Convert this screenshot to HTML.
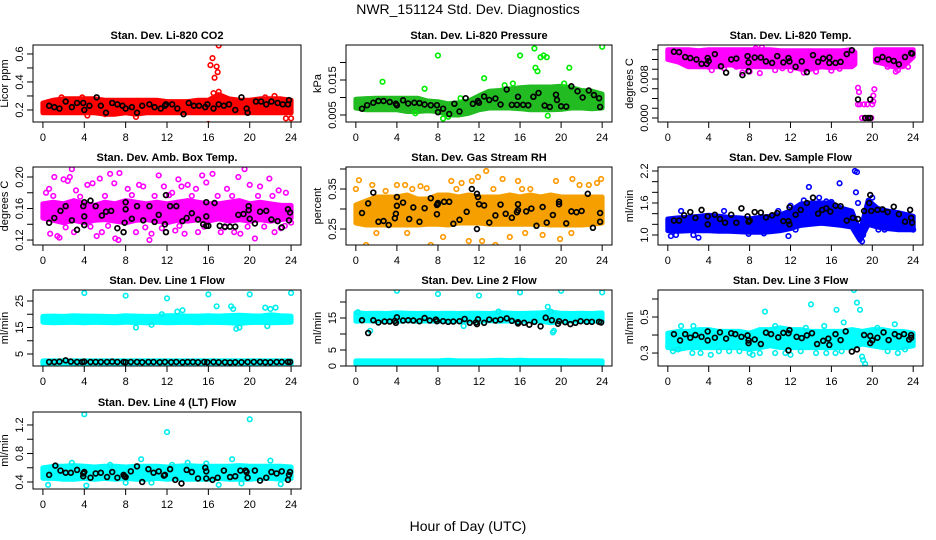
<!DOCTYPE html>
<html><head><meta charset="utf-8"><style>
body{margin:0;background:#fff}
svg{display:block;font-family:"Liberation Sans",sans-serif}
</style></head><body>
<svg id="chart" width="936" height="540" viewBox="0 0 936 540">
<rect x="0" y="0" width="936" height="540" fill="#fff"/>
<text x="468" y="14" text-anchor="middle" font-size="14">NWR_151124  Std. Dev. Diagnostics</text>
<text x="468" y="531" text-anchor="middle" font-size="14">Hour of Day (UTC)</text>
</svg>
<script>
const HOURS=[0,1,2,3,4,5,6,7,8,9,10,11,12,13,14,15,16,17,18,19,20,21,22,23,24];
const X_TICKS=[0,4,8,12,16,20,24];

// P1 CO2
const co2BandLo=[0.18,0.18,0.18,0.18,0.18,0.18,0.17,0.17,0.18,0.17,0.18,0.18,0.18,0.18,0.18,0.18,0.18,0.18,0.18,0.18,0.18,0.18,0.18,0.18,0.18];
const co2BandHi=[0.25,0.27,0.28,0.28,0.28,0.28,0.27,0.27,0.27,0.27,0.27,0.27,0.26,0.26,0.26,0.27,0.27,0.31,0.28,0.27,0.27,0.28,0.28,0.28,0.27];
const co2Pts=[[16.2,0.52],[16.4,0.57],[16.6,0.43],[16.8,0.51],[16.9,0.47],[17,0.66],[16.5,0.32],[17,0.33],[16,0.1],[23.5,0.14],[24,0.14],[1.8,0.29],[3.8,0.29],[4.3,0.16],[9,0.15],[22.4,0.3],[21.5,0.29],[6,0.17]];
const co2Black=[[0.6,0.23],[1.1,0.22],[1.6,0.21],[2.2,0.26],[2.8,0.22],[3.3,0.25],[3.9,0.25],[4,0.2],[4.5,0.23],[5.2,0.29],[5.6,0.23],[6.1,0.18],[6.7,0.25],[7.2,0.24],[7.7,0.23],[8,0.21],[8.6,0.22],[9.1,0.18],[9.6,0.23],[10.3,0.24],[10.8,0.22],[11.4,0.21],[11.8,0.23],[11.9,0.24],[12.5,0.24],[13,0.21],[13.6,0.17],[14.1,0.25],[14.6,0.23],[15.1,0.23],[15.7,0.22],[15.9,0.24],[16.5,0.21],[17,0.24],[17.5,0.23],[18,0.24],[18.6,0.2],[19.2,0.29],[19.7,0.21],[19.8,0.18],[20.6,0.26],[21.1,0.26],[21.6,0.24],[22.1,0.26],[22.7,0.25],[23.2,0.24],[23.7,0.24],[23.8,0.27]];
const co2Ticks=[0.2,0.3,0.4,0.5,0.6];
const co2Labels=["0.2","","0.4","","0.6"];

// P2 Pressure
const presBandLo=[0.007,0.0065,0.0065,0.0065,0.0065,0.006,0.006,0.0062,0.006,0.005,0.005,0.0055,0.0065,0.007,0.007,0.007,0.0068,0.0065,0.0065,0.0065,0.0066,0.007,0.007,0.0068,0.007];
const presBandHi=[0.0095,0.0097,0.0098,0.0098,0.0098,0.0098,0.0098,0.009,0.0088,0.0082,0.0085,0.009,0.0105,0.0118,0.012,0.0125,0.0128,0.013,0.013,0.013,0.0132,0.0128,0.012,0.0118,0.011];
const presPts=[[8,0.022],[2.6,0.0145],[6.7,0.0125],[12.5,0.0155],[16,0.022],[17.4,0.024],[17.5,0.0185],[17.7,0.0175],[18,0.0215],[18.3,0.022],[18.6,0.0215],[20.8,0.0185],[24,0.0245],[18.7,0.0048],[5.8,0.0055],[10.2,0.0098],[8.5,0.004],[9,0.0045],[14.5,0.0135],[15.3,0.014],[20.3,0.014]];
const presBlack=[[0.6,0.0068],[1.1,0.0078],[1.7,0.0085],[2.2,0.009],[2.7,0.009],[3.3,0.0087],[3.9,0.0082],[4,0.0078],[4.6,0.0092],[5.1,0.0083],[5.7,0.0085],[6.2,0.0084],[6.7,0.008],[7.3,0.0078],[7.9,0.0078],[8,0.0058],[8.5,0.0068],[9.1,0.0053],[9.6,0.0082],[10.1,0.006],[10.7,0.0098],[11.4,0.0082],[11.9,0.009],[12,0.0085],[12.5,0.0103],[13,0.0093],[13.6,0.0097],[14.1,0.008],[14.7,0.0123],[15.2,0.0079],[15.7,0.0079],[15.8,0.0102],[16.3,0.0079],[16.8,0.0078],[17.3,0.0102],[17.8,0.0113],[18.4,0.0077],[18.9,0.0073],[19.5,0.0108],[19.6,0.0093],[20,0.0075],[20.5,0.0074],[21,0.0132],[21.6,0.0118],[22.1,0.01],[22.7,0.012],[23.2,0.0107],[23.7,0.0098],[23.8,0.0073]];
const presTicks=[0.005,0.010,0.015,0.020];
const presLabels=["0.005","","0.015",""];

// P3 Li-820 Temp
const tempBandX=[0,1,2,3,4,5,6,7,8,9,10,11,12,13,14,15,16,17,18,18.3,null,20.3,21,22,23,24];
const tempBandLo=[0.012,0.0115,0.0105,0.0105,0.0105,0.0105,0.011,0.0105,0.0105,0.0105,0.0105,0.0105,0.0105,0.01,0.01,0.0105,0.0103,0.0105,0.0105,0.011,null,0.0115,0.0112,0.0105,0.0105,0.0125];
const tempBandHi=[0.014,0.014,0.014,0.0138,0.014,0.014,0.014,0.014,0.014,0.014,0.014,0.0138,0.0138,0.0138,0.0138,0.0138,0.0138,0.0138,0.014,0.0135,null,0.014,0.014,0.014,0.014,0.014];
const tempPts=[[1.3,0.0115],[1.8,0.0108],[4,0.0105],[4.3,0.0098],[5.2,0.0108],[5.5,0.0102],[7.3,0.0093],[8,0.0095],[8.6,0.0143],[9.2,0.0145],[9,0.0092],[10.5,0.0098],[12,0.0098],[13.3,0.0093],[14.5,0.0095],[16,0.0097],[16.8,0.0101],[18.6,0.0062],[18.7,0.0053],[18.6,0.0028],[18.8,0.0028],[19,0],[19.3,0],[19.6,0],[19.9,0],[19.2,0.0028],[19.5,0.0028],[20,0.0028],[20.1,0.0046],[20.2,0.0059],[20.1,0.0034],[21.5,0.0105],[22.3,0.0095],[22.5,0.0098],[23.5,0.0105],[2.5,0.0108],[6.7,0.0105],[11.2,0.0102]];
const tempBlack=[[0.6,0.0136],[1.1,0.0135],[1.7,0.0125],[2.2,0.0123],[2.8,0.012],[3.3,0.0111],[3.8,0.0111],[3.9,0.0123],[4,0.0117],[4.6,0.0131],[5.2,0.0106],[5.7,0.0093],[6.2,0.012],[6.7,0.0122],[7.3,0.0088],[7.8,0.0127],[7.9,0.0114],[7.9,0.0096],[8.5,0.0124],[9.1,0.0124],[9.6,0.0116],[10.2,0.0113],[10.7,0.0127],[11.3,0.0114],[11.8,0.0123],[11.9,0.0116],[12.5,0.0105],[13.1,0.0116],[13.6,0.0094],[14.2,0.0129],[14.7,0.0115],[15.2,0.0122],[15.8,0.0124],[15.8,0.0113],[16.4,0.0113],[16.9,0.0115],[17.5,0.0131],[18,0.0139],[18.6,0.0038],[19.3,0],[19.6,0],[19.8,0.0038],[19.8,0],[20.5,0.012],[21,0.0125],[21.6,0.012],[22.1,0.0117],[22.6,0.011],[23.2,0.0125],[23.8,0.0133],[23.9,0.0132]];
const tempTicks=[0,0.002,0.004,0.006,0.008,0.010,0.012,0.014];
const tempLabels=["0.000","","","","0.008","","",""];

// P4 Amb Box Temp
const ambBandLo=[0.148,0.145,0.142,0.145,0.142,0.145,0.146,0.144,0.142,0.145,0.146,0.144,0.142,0.145,0.144,0.146,0.144,0.147,0.144,0.146,0.144,0.146,0.144,0.146,0.148];
const ambBandHi=[0.166,0.168,0.166,0.17,0.166,0.164,0.168,0.166,0.17,0.168,0.166,0.168,0.166,0.168,0.17,0.168,0.166,0.166,0.168,0.17,0.166,0.168,0.166,0.164,0.164];
const ambPts=[[0.3,0.18],[0.6,0.185],[1.1,0.2],[1.4,0.125],[1.6,0.123],[2,0.197],[2.4,0.195],[2.6,0.2],[2.8,0.21],[3.2,0.183],[4.3,0.19],[4.8,0.192],[5.5,0.198],[5.2,0.125],[6.5,0.204],[6.9,0.192],[7.4,0.205],[7,0.122],[7.3,0.12],[8.2,0.185],[9.3,0.19],[9.7,0.188],[10.3,0.12],[10.5,0.128],[11.2,0.202],[11.7,0.188],[12.5,0.18],[13.1,0.197],[13.4,0.188],[13.7,0.128],[14,0.19],[14.8,0.185],[15.4,0.202],[15.8,0.193],[16.4,0.204],[17.2,0.13],[17.8,0.185],[18.9,0.2],[19.1,0.128],[19.5,0.21],[20,0.19],[20.5,0.122],[21,0.188],[21.9,0.198],[22.4,0.13],[22.8,0.183],[23.5,0.18],[24,0.142],[0.7,0.128],[3,0.13],[5.7,0.13],[9,0.13],[12.8,0.132],[15,0.13],[18.5,0.13],[23,0.135],[1,0.176],[2.2,0.136],[3.6,0.175],[4.6,0.137],[6,0.176],[6.3,0.138],[8.6,0.177],[9.9,0.136],[10.8,0.176],[11.5,0.135],[12.2,0.177],[13.2,0.138],[14.4,0.176],[15.6,0.137],[16.9,0.176],[17.6,0.136],[18.3,0.176],[19.8,0.137],[20.8,0.176],[21.4,0.137],[22.2,0.176],[23.4,0.138]];
const ambBlack=[[0.6,0.142],[1.1,0.148],[1.7,0.157],[2.2,0.163],[2.8,0.145],[3.3,0.133],[3.9,0.163],[4,0.168],[4,0.15],[4,0.139],[4.6,0.17],[5.1,0.163],[5.7,0.151],[6.1,0.156],[6.6,0.157],[7.2,0.135],[7.8,0.13],[7.9,0.142],[8,0.159],[8,0.168],[8.6,0.147],[9.1,0.163],[9.7,0.145],[10.3,0.163],[10.8,0.143],[11.2,0.152],[11.8,0.14],[11.9,0.177],[11.9,0.13],[12.3,0.163],[12.9,0.163],[13.5,0.144],[13.9,0.148],[14.4,0.154],[15,0.146],[15.5,0.14],[15.8,0.138],[15.8,0.15],[15.8,0.168],[16,0.138],[16.6,0.167],[17.1,0.138],[17.6,0.137],[18.1,0.137],[18.6,0.137],[18.9,0.152],[19.4,0.153],[19.9,0.158],[19.9,0.163],[20,0.147],[20.5,0.141],[21,0.156],[21.6,0.157],[22.1,0.146],[22.7,0.144],[23.1,0.136],[23.7,0.159],[23.8,0.145],[23.9,0.155]];
const ambTicks=[0.12,0.14,0.16,0.18,0.20];
const ambLabels=["0.12","","0.16","","0.20"];

// P5 Gas Stream RH
const rhBandLo=[0.265,0.26,0.26,0.26,0.26,0.26,0.26,0.262,0.262,0.26,0.265,0.265,0.265,0.262,0.262,0.262,0.262,0.262,0.262,0.26,0.26,0.26,0.26,0.262,0.265];
const rhBandHi=[0.31,0.32,0.33,0.33,0.33,0.335,0.325,0.325,0.335,0.335,0.33,0.335,0.33,0.33,0.33,0.335,0.33,0.335,0.33,0.335,0.33,0.33,0.33,0.33,0.33];
const rhPts=[[0.3,0.372],[0,0.35],[1,0.21],[1.6,0.36],[2.9,0.345],[4,0.36],[4.8,0.36],[5.5,0.35],[6.3,0.357],[6.9,0.352],[7.3,0.21],[8.5,0.23],[9.3,0.37],[9.8,0.35],[10.3,0.365],[11,0.22],[11.3,0.37],[11.9,0.38],[12.3,0.22],[12.7,0.395],[13.4,0.35],[13.6,0.21],[14.3,0.375],[15,0.23],[15.8,0.37],[16.2,0.35],[17,0.35],[18.2,0.235],[19.5,0.37],[19.9,0.225],[21.1,0.375],[21.8,0.36],[22.7,0.36],[23.5,0.365],[23.9,0.375],[2,0.24],[5,0.24],[16.5,0.24],[21,0.24]];
const rhBlack=[[0.6,0.29],[1.2,0.314],[1.7,0.341],[2.2,0.268],[2.7,0.27],[3.2,0.26],[3.8,0.277],[3.9,0.288],[4,0.308],[4,0.33],[4.6,0.316],[5.2,0.275],[5.6,0.304],[6.2,0.268],[6.7,0.302],[7.3,0.327],[7.9,0.287],[7.9,0.31],[8,0.313],[8,0.315],[8.6,0.318],[9.1,0.318],[9.5,0.263],[10.1,0.273],[10.8,0.293],[11.3,0.35],[11.8,0.338],[11.8,0.25],[11.9,0.33],[12,0.312],[12.5,0.309],[13,0.266],[13.6,0.284],[14.1,0.311],[14.6,0.288],[15.2,0.278],[15.7,0.292],[15.8,0.297],[15.8,0.312],[16.6,0.294],[17.1,0.301],[17.6,0.258],[18.2,0.305],[18.6,0.266],[19.2,0.285],[19.8,0.318],[19.8,0.312],[20.5,0.264],[21,0.294],[21.5,0.292],[22,0.295],[22.6,0.338],[23.1,0.253],[23.8,0.268],[23.8,0.29]];
const rhTicks=[0.25,0.30,0.35,0.40];
const rhLabels=["0.25","","0.35",""];

// P6 Sample Flow
const sfBandX=[0,1,2,3,4,5,6,7,8,9,10,11,12,13,14,15,16,17,18,18.8,19.6,20.5,21.5,22.5,24];
const sfBandLo=[1.08,1.07,1.08,1.08,1.08,1.07,1.07,1.06,1.05,1.05,1.06,1.08,1.12,1.18,1.2,1.22,1.2,1.18,1.15,0.9,1.2,1.15,1.12,1.1,1.1];
const sfBandHi=[1.3,1.32,1.33,1.35,1.37,1.35,1.33,1.32,1.3,1.33,1.35,1.38,1.45,1.58,1.6,1.6,1.6,1.5,1.45,1.05,1.65,1.5,1.45,1.42,1.35];
const sfPts=[[13.8,1.9],[16.8,1.97],[18.3,2.2],[18.5,2.18],[18.4,1.8],[14.8,1.7],[20,1.7],[0.3,0.98],[0.8,1.0],[3,0.95],[2.5,1.0],[11.8,0.98],[18.9,0.95],[19,0.88],[19.1,1.0],[1.3,1.45],[5.5,1.45],[10.8,1.45],[12,1.55],[13.3,1.65],[15.5,1.63],[16,1.62],[18.6,1.6],[20.6,1.1],[21.2,1.1],[22.6,1.13],[24,1.1],[7.9,1.02],[9.4,1.03],[12.5,1.1]];
const sfBlack=[[0.6,1.27],[1.1,1.27],[1.6,1.37],[2.2,1.43],[2.7,1.32],[3.3,1.47],[3.9,1.2],[3.9,1.35],[4.6,1.38],[5.1,1.3],[5.6,1.23],[6.2,1.38],[6.7,1.23],[7.2,1.5],[7.8,1.35],[7.9,1.25],[8,1.27],[8.5,1.43],[9.1,1.42],[9.6,1.33],[10.2,1.37],[10.7,1.41],[11.3,1.26],[11.8,1.26],[11.9,1.2],[11.9,1.52],[12.5,1.38],[13,1.47],[13.6,1.6],[14.2,1.7],[14.7,1.4],[15.1,1.47],[15.5,1.5],[15.9,1.44],[16.4,1.55],[16.9,1.54],[17.5,1.27],[18.1,1.32],[18.6,1.3],[19.2,1.45],[19.7,1.6],[19.8,1.75],[19.9,1.45],[20.5,1.47],[21,1.48],[21.5,1.43],[22.1,1.53],[22.6,1.39],[23.2,1.25],[23.7,1.47],[23.8,1.32],[23.9,1.23]];
const sfTicks=[1.0,1.2,1.4,1.6,1.8,2.0,2.2];
const sfLabels=["1.0","","","1.6","","","2.2"];

// P7 Line 1 Flow
const l1BandLo=[17,16.8,16.9,17,16.8,17,16.9,16.8,17,16.9,16.8,17,16.8,16.9,17,16.8,17,16.9,16.8,16.5,16.9,17,16.8,16.9,17];
const l1BandHi=[19.2,19.3,19.2,19.4,19.3,19.3,19.2,19.1,19.4,19.3,19.2,19.2,19.4,19.5,19.3,19.3,19.4,19.3,19.5,19.6,19.4,19.3,19.8,19.4,19.3];
const l1Band2Lo=[1.2,1.2,1.2,1.2,1.2,1.2,1.2,1.2,1.2,1.2,1.2,1.2,1.2,1.2,1.2,1.2,1.2,1.2,1.2,1.2,1.2,1.2,1.2,1.2,1.2];
const l1Band2Hi=[2.4,2.4,2.4,2.4,2.4,2.4,2.4,2.4,2.4,2.4,2.4,2.4,2.4,2.4,2.4,2.4,2.4,2.4,2.4,2.4,2.4,2.4,2.4,2.4,2.4];
const l1Pts=[[4,28],[8,27],[12,26],[16,27.5],[20,27.5],[24,28],[16.8,23],[18.2,23],[18.4,22],[21.5,22.5],[22,22],[22.5,22.5],[18.7,14.5],[9,15],[21.7,15.5],[19,15],[13,21],[13.5,21.5],[11.5,20],[10.5,16]];
const l1Black=[[0.6,2],[1.1,2],[1.6,2.1],[2.2,2.6],[2.7,2.1],[3.3,2],[3.8,2],[4,2.1],[4.6,2],[5.1,2],[5.6,2],[6.2,2],[6.7,2.1],[7.2,2],[7.8,2],[8,1.9],[8.5,2],[9.1,2],[9.6,1.9],[10.2,2],[10.7,2],[11.3,1.9],[11.8,2],[12.4,1.9],[12.9,2],[13.5,1.9],[14,2],[14.5,2],[15,1.9],[15.6,2],[15.9,1.9],[16.5,2],[17,1.9],[17.6,1.9],[18.1,1.8],[18.6,1.9],[19.2,1.9],[19.8,2],[20.4,2],[21,2],[21.5,1.9],[22,1.9],[22.6,2],[23.1,2],[23.7,2],[23.9,2]];
const l1Ticks=[5,10,15,20,25];
const l1Labels=["5","","15","","25"];

// P8 Line 2 Flow
const l2BandLo=[14,14.2,14,14.1,14,14.2,14,14.1,14,14.1,14,14.1,14,14.2,14,14.1,14,14.1,14,13.5,14,14.1,14,14.1,14];
const l2BandHi=[16.6,16.4,16.5,16.4,16.6,16.5,16.4,16.5,16.4,16.5,16.4,16.5,16.5,16.4,16.6,16.5,16.4,16.5,16.6,16.8,16.5,16.4,16.5,16.4,16.6];
const l2Band2Lo=[0.5,0.5,0.5,0.5,0.5,0.5,0.5,0.5,0.5,0.5,0.5,0.5,0.5,0.5,0.5,0.5,0.5,0.5,0.5,0.5,0.5,0.5,0.5,0.5,0.5];
const l2Band2Hi=[1.6,1.6,1.6,1.6,1.6,1.6,1.6,1.6,1.6,1.8,1.6,1.6,1.6,1.7,1.8,1.7,1.8,1.7,1.7,1.7,1.7,1.6,1.6,1.6,1.6];
const l2Pts=[[4,23.5],[8,22.5],[12,22],[16,23],[20,23.5],[24,23],[18.7,18.5],[19,17],[19.3,11],[10.5,12.5],[1.4,11],[19.2,10.5],[13.9,17],[0.2,16.8]];
const l2Black=[[0.6,14.3],[1.2,10.3],[1.7,14.3],[2.2,13.6],[2.8,13.9],[3.3,13.9],[3.8,14.1],[3.9,13.5],[4,15.2],[4.6,14.2],[5.1,14.3],[5.6,14.2],[6.2,14],[6.7,15],[7.2,14.2],[7.8,14.5],[7.9,14],[8.5,14],[9,13.8],[9.5,13.9],[10.1,14],[10.6,14.7],[11.1,13.5],[11.7,13.6],[11.8,13.1],[11.9,14.6],[12.5,13.5],[13,14.5],[13.6,14.2],[14.1,14.5],[14.7,14.9],[15.2,14.1],[15.8,13.3],[15.8,13.7],[16.4,13.5],[16.9,12.9],[17.4,13.8],[18,12.4],[18.5,15.1],[19.1,14.3],[19.7,13.2],[19.8,14],[20.4,13.7],[20.9,13.1],[21.4,13.5],[21.9,14],[22.5,13.8],[23,13.8],[23.7,13.8],[23.9,13.6]];
const l2Ticks=[0,5,10,15,20];
const l2Labels=["0","5","","15",""];

// P9 Line 3 Flow
const l3BandLo=[0.33,0.32,0.33,0.33,0.33,0.33,0.33,0.33,0.32,0.33,0.34,0.33,0.33,0.33,0.33,0.33,0.33,0.33,0.33,0.35,0.34,0.33,0.33,0.33,0.34];
const l3BandHi=[0.41,0.42,0.42,0.43,0.43,0.42,0.42,0.42,0.41,0.43,0.43,0.44,0.43,0.43,0.42,0.42,0.42,0.42,0.43,0.42,0.43,0.43,0.42,0.42,0.41];
const l3Pts=[[0.5,0.31],[1,0.32],[2.4,0.3],[3.2,0.3],[4.2,0.29],[5,0.31],[6,0.31],[7,0.31],[8,0.3],[8.3,0.29],[9,0.3],[10.5,0.3],[11.5,0.3],[12,0.29],[13,0.31],[14.5,0.3],[15.5,0.3],[16.4,0.3],[17,0.31],[19.2,0.22],[19.3,0.24],[19.1,0.26],[19,0.28],[21.5,0.31],[22.5,0.3],[23.2,0.32],[9.5,0.53],[13.5,0.44],[14,0.57],[18.2,0.65],[18.5,0.58],[18.8,0.54],[16.5,0.54],[22.2,0.46],[1.3,0.45],[2.5,0.45],[10.5,0.45],[17.2,0.47],[20.5,0.44],[15.3,0.45]];
const l3Black=[[0.6,0.405],[1.2,0.37],[1.7,0.405],[2.2,0.385],[2.7,0.4],[3.3,0.39],[3.9,0.42],[3.9,0.37],[4.6,0.385],[5.1,0.415],[5.7,0.38],[6.2,0.41],[6.6,0.405],[7.2,0.39],[7.8,0.398],[7.9,0.37],[7.9,0.355],[8.5,0.375],[9.1,0.35],[9.6,0.413],[10.1,0.405],[10.8,0.387],[11.3,0.412],[11.8,0.315],[11.8,0.41],[11.9,0.427],[12.6,0.39],[13.1,0.383],[13.6,0.398],[14.1,0.41],[14.6,0.35],[15.2,0.368],[15.7,0.38],[15.8,0.345],[16.4,0.405],[16.9,0.372],[17.4,0.42],[18,0.308],[18.5,0.32],[19.2,0.4],[19.8,0.395],[19.8,0.355],[20,0.37],[20.5,0.385],[21.1,0.415],[21.6,0.372],[22.2,0.405],[22.6,0.393],[23.1,0.405],[23.6,0.375],[23.8,0.4],[23.8,0.385]];
const l3Ticks=[0.3,0.4,0.5,0.6];
const l3Labels=["0.3","","0.5",""];

// P10 Line 4 (LT) Flow
const l4BandLo=[0.45,0.45,0.44,0.44,0.45,0.44,0.45,0.44,0.45,0.44,0.44,0.45,0.44,0.45,0.44,0.44,0.44,0.45,0.44,0.44,0.44,0.45,0.45,0.44,0.45];
const l4BandHi=[0.6,0.62,0.62,0.63,0.62,0.61,0.62,0.62,0.61,0.62,0.62,0.62,0.61,0.62,0.63,0.62,0.62,0.62,0.62,0.63,0.62,0.62,0.62,0.62,0.61];
const l4Pts=[[4,1.35],[12,1.1],[20,1.28],[0.5,0.36],[4.2,0.35],[9.5,0.72],[18.3,0.72],[22,0.7],[17,0.36],[2.8,0.67],[14,0.67],[15.8,0.66],[8,0.39],[10.5,0.39],[19.2,0.38],[23,0.37],[6.5,0.64],[12.5,0.64]];
const l4Black=[[0.6,0.5],[1.2,0.63],[1.7,0.56],[2.2,0.53],[2.7,0.53],[3.3,0.57],[3.9,0.52],[3.9,0.48],[4,0.54],[4.6,0.46],[5.1,0.52],[5.6,0.53],[6.2,0.47],[6.7,0.54],[7.2,0.46],[7.8,0.5],[7.9,0.48],[8,0.47],[8.5,0.55],[9.1,0.62],[9.6,0.4],[10.2,0.58],[10.7,0.53],[11.2,0.55],[11.7,0.49],[11.8,0.5],[12.3,0.58],[12.8,0.43],[13.4,0.38],[13.9,0.57],[14.4,0.54],[15,0.45],[15.7,0.6],[15.8,0.55],[15.8,0.45],[16.4,0.43],[16.9,0.46],[17.5,0.56],[18.1,0.47],[18.6,0.48],[19.1,0.56],[19.6,0.56],[19.7,0.54],[19.8,0.46],[20.5,0.56],[21,0.42],[21.6,0.46],[22.1,0.54],[22.6,0.52],[23.1,0.55],[23.7,0.43],[23.8,0.5],[23.9,0.54]];
const l4Ticks=[0.4,0.6,0.8,1.0,1.2];
const l4Labels=["0.4","","0.8","","1.2"];

const NS="http://www.w3.org/2000/svg";
const svg=document.getElementById('chart');
function mk(tag,attrs,parent){const e=document.createElementNS(NS,tag);for(const k in attrs)e.setAttribute(k,attrs[k]);parent.appendChild(e);return e;}

const panels=[
 {id:'co2',title:'Stan. Dev. Li-820 CO2',ylab:'Licor ppm',box:[33,301,45,122],yd:[0.114,0.664],bx:HOURS,lo:co2BandLo,hi:co2BandHi,pts:co2Pts,blk:co2Black,yt:co2Ticks,yl:co2Labels,fill:'#ff0000',col:'#ff0000'},
 {id:'pressure',title:'Stan. Dev. Li-820 Pressure',ylab:'kPa',box:[346,612,45,122],yd:[0.003,0.025],bx:HOURS,lo:presBandLo,hi:presBandHi,pts:presPts,blk:presBlack,yt:presTicks,yl:presLabels,fill:'#22bb22',col:'#00ee00'},
 {id:'li820-temp',title:'Stan. Dev. Li-820 Temp.',ylab:'degrees C',box:[658,923,45,122],yd:[-0.00082,0.01497],bx:tempBandX,lo:tempBandLo,hi:tempBandHi,pts:tempPts,blk:tempBlack,yt:tempTicks,yl:tempLabels,fill:'#ff00ff',col:'#ff00ff'},
 {id:'amb-temp',title:'Stan. Dev. Amb. Box Temp.',ylab:'degrees C',box:[33,301,167,245],yd:[0.1137,0.2127],bx:HOURS,lo:ambBandLo,hi:ambBandHi,pts:ambPts,blk:ambBlack,yt:ambTicks,yl:ambLabels,fill:'#ff00ff',col:'#ff00ff'},
 {id:'rh',title:'Stan. Dev. Gas Stream RH',ylab:'percent',box:[346,612,167,245],yd:[0.21,0.405],bx:HOURS,lo:rhBandLo,hi:rhBandHi,pts:rhPts,blk:rhBlack,yt:rhTicks,yl:rhLabels,fill:'#f5a000',col:'#ff9900'},
 {id:'sample-flow',title:'Stan. Dev. Sample Flow',ylab:'ml/min',box:[658,923,167,245],yd:[0.8125,2.275],bx:sfBandX,lo:sfBandLo,hi:sfBandHi,pts:sfPts,blk:sfBlack,yt:sfTicks,yl:sfLabels,fill:'#0000ff',col:'#0000ff'},
 {id:'line1',title:'Stan. Dev. Line 1 Flow',ylab:'ml/min',box:[33,301,290,366],yd:[0.47,29.15],bx:HOURS,lo:l1BandLo,hi:l1BandHi,lo2:l1Band2Lo,hi2:l1Band2Hi,pts:l1Pts,blk:l1Black,yt:l1Ticks,yl:l1Labels,fill:'#00ffff',col:'#00eeee'},
 {id:'line2',title:'Stan. Dev. Line 2 Flow',ylab:'ml/min',box:[346,612,290,366],yd:[0,23.75],bx:HOURS,lo:l2BandLo,hi:l2BandHi,lo2:l2Band2Lo,hi2:l2Band2Hi,pts:l2Pts,blk:l2Black,yt:l2Ticks,yl:l2Labels,fill:'#00ffff',col:'#00eeee'},
 {id:'line3',title:'Stan. Dev. Line 3 Flow',ylab:'ml/min',box:[658,923,290,366],yd:[0.228,0.65],bx:HOURS,lo:l3BandLo,hi:l3BandHi,pts:l3Pts,blk:l3Black,yt:l3Ticks,yl:l3Labels,fill:'#00ffff',col:'#00eeee'},
 {id:'line4',title:'Stan. Dev. Line 4 (LT) Flow',ylab:'ml/min',box:[33,301,412,489],yd:[0.302,1.382],bx:HOURS,lo:l4BandLo,hi:l4BandHi,pts:l4Pts,blk:l4Black,yt:l4Ticks,yl:l4Labels,fill:'#00ffff',col:'#00eeee'}
];

function bandPath(xs,lo,hi,sx,sy){
  let segs=[],cur=[];
  for(let i=0;i<xs.length;i++){ if(xs[i]===null){ if(cur.length)segs.push(cur); cur=[]; } else cur.push(i); }
  if(cur.length)segs.push(cur);
  let d='';
  segs.forEach(s=>{
    d+='M'+s.map(i=>sx(xs[i]).toFixed(1)+','+sy(hi[i]).toFixed(1)).join('L');
    d+='L'+s.slice().reverse().map(i=>sx(xs[i]).toFixed(1)+','+sy(lo[i]).toFixed(1)).join('L')+'Z';
  });
  return d;
}

panels.forEach(p=>{
  const [x0,x1,y0,y1]=p.box;
  const sx=v=>x0+(v+0.96)/25.92*(x1-x0);
  const sy=v=>y1-(v-p.yd[0])/(p.yd[1]-p.yd[0])*(y1-y0);
  const g=mk('g',{},svg);
  
  
  const cp=mk('clipPath',{id:'clip-'+p.id},g);
  mk('rect',{x:x0,y:y0,width:x1-x0,height:y1-y0},cp);
  const plot=mk('g',{'clip-path':'url(#clip-'+p.id+')'},g);
  
  
  const band=mk('path',{d:bandPath(p.bx,p.lo,p.hi,sx,sy),fill:p.fill,stroke:p.fill,'stroke-width':5,'stroke-linejoin':'round'},plot);
  
  
  if(p.lo2){
    const b2=mk('path',{d:bandPath(p.bx,p.lo2,p.hi2,sx,sy),fill:p.fill,stroke:p.fill,'stroke-width':5,'stroke-linejoin':'round'},plot);
    
    
  }
  p.pts.forEach(pt=>{
    const c=mk('circle',{cx:sx(pt[0]),cy:sy(pt[1]),r:2.3,fill:'none',stroke:p.col,'stroke-width':1.6},plot);
    
    
  });
  p.blk.forEach(pt=>{
    const c=mk('circle',{cx:sx(pt[0]),cy:sy(pt[1]),r:2.4,fill:'none',stroke:'#000','stroke-width':1.7},plot);
    
    
  });
  const box=mk('rect',{x:x0,y:y0,width:x1-x0,height:y1-y0,fill:'none',stroke:'#000','stroke-width':1},g);
  
  
  const t=mk('text',{x:(x0+x1)/2,y:y0-6,'text-anchor':'middle','font-size':11,'font-weight':'bold'},g);
  t.textContent=p.title;
  
  
  const xa=mk('g',{},g);
  
  
  mk('line',{x1:sx(X_TICKS[0]),x2:sx(X_TICKS[X_TICKS.length-1]),y1:y1,y2:y1,stroke:'#000'},xa);
  X_TICKS.forEach(v=>{
    mk('line',{x1:sx(v),x2:sx(v),y1:y1,y2:y1+6,stroke:'#000'},xa);
    const l=mk('text',{x:sx(v),y:y1+19,'text-anchor':'middle','font-size':11},xa);
    l.textContent=String(v);
    
    
  });
  const ya=mk('g',{},g);
  
  
  p.yt.forEach((v,i)=>{
    mk('line',{x1:x0-6,x2:x0,y1:sy(v),y2:sy(v),stroke:'#000'},ya);
    if(p.yl[i]){
      const l=mk('text',{x:x0-10,y:sy(v),'text-anchor':'middle','font-size':11,transform:'rotate(-90 '+(x0-10)+' '+sy(v)+')'},ya);
      l.textContent=p.yl[i];
      
      
    }
  });
  const yc=(y0+y1)/2;
  const yt=mk('text',{x:x0-25,y:yc,'text-anchor':'middle','font-size':11,transform:'rotate(-90 '+(x0-25)+' '+yc+')'},g);
  yt.textContent=p.ylab;
  
  
});
</script>
</body></html>
